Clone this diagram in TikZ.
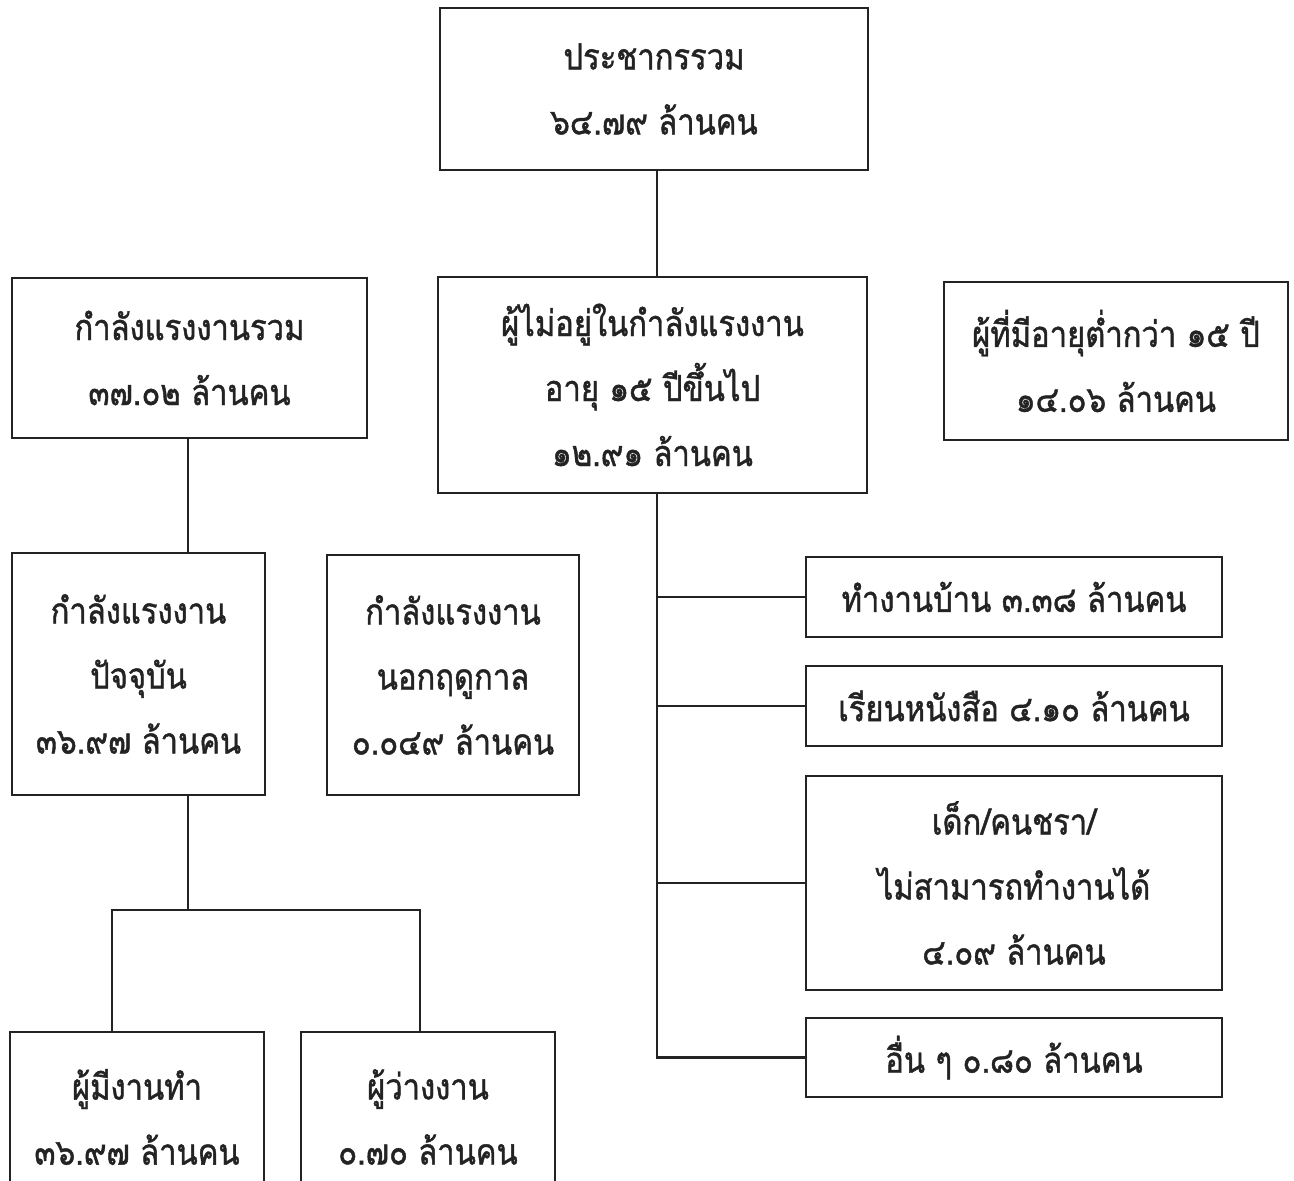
\documentclass[tikz,border=0pt]{standalone}
\usepackage{fontspec}
\usepackage{tikz}
\newfontfamily\thaifont[Script=Thai,FakeStretch=0.86,FakeBold=1.2]{Loma}
\definecolor{ink}{RGB}{35,35,35}

\begin{document}
\begin{tikzpicture}[x=1pt,y=1pt,yscale=-1,xscale=1,
  box/.style={draw=ink,line width=2.8pt,inner sep=0pt,align=center,text=ink,
    font=\thaifont\fontsize{36}{65}\selectfont},
  link/.style={draw=ink,line width=2.4pt}]
\clip (0,0) rectangle (1294,1181);
\fill[white] (0,0) rectangle (1294,1181);

%Boxes
\node[box,minimum width=428,minimum height=162] (total) at (654,89) {ประชากรรวม\\๖๔.๗๙ ล้านคน};
\node[box,minimum width=355,minimum height=160] (lf) at (189.5,358) {กำลังแรงงานรวม\\๓๗.๐๒ ล้านคน};
\node[box,minimum width=429,minimum height=216] (notlf) at (652.5,385) {ผู้ไม่อยู่ในกำลังแรงงาน\\อายุ ๑๕ ปีขึ้นไป\\๑๒.๙๑ ล้านคน};
\node[box,minimum width=344,minimum height=158] (young) at (1116,361) {ผู้ที่มีอายุต่ำกว่า ๑๕ ปี\\๑๔.๐๖ ล้านคน};
\node[box,minimum width=253,minimum height=242] (cur) at (138.5,674) {กำลังแรงงาน\\ปัจจุบัน\\๓๖.๙๗ ล้านคน};
\node[box,minimum width=252,minimum height=240] (season) at (453,675) {กำลังแรงงาน\\นอกฤดูกาล\\๐.๐๔๙ ล้านคน};
\node[box,minimum width=254,minimum height=170] (emp) at (137,1117) {ผู้มีงานทำ\\๓๖.๙๗ ล้านคน};
\node[box,minimum width=254,minimum height=170] (unemp) at (428,1117) {ผู้ว่างงาน\\๐.๗๐ ล้านคน};
\node[box,minimum width=416,minimum height=80] (house) at (1014,597) {ทำงานบ้าน ๓.๓๘ ล้านคน};
\node[box,minimum width=416,minimum height=80] (study) at (1014,706) {เรียนหนังสือ ๔.๑๐ ล้านคน};
\node[box,minimum width=416,minimum height=214] (child) at (1014,883) {เด็ก/คนชรา/\\ไม่สามารถทำงานได้\\๔.๐๙ ล้านคน};
\node[box,minimum width=416,minimum height=79] (other) at (1014,1057.5) {อื่น ๆ ๐.๘๐ ล้านคน};

%Forks
\coordinate (spine) at (657,494);
\coordinate (fork) at (188,910);
\coordinate (forkL) at (112,910);
\coordinate (forkR) at (420,910);

%Lines
\draw[link] (total.south -| spine) -- (notlf.north -| spine);
\draw[link] (lf.south -| fork) -- (cur.north -| fork);
\draw[link] (cur.south -| fork) -- (fork);
\draw[link] (emp.north -| forkL) -- (forkL) -- (forkR) -- (unemp.north -| forkR);
\draw[link] (notlf.south -| spine) -- (spine |- other.west) -- (other.west);
\draw[link] (spine |- house.west) -- (house.west);
\draw[link] (spine |- study.west) -- (study.west);
\draw[link] (spine |- child.west) -- (child.west);

\end{tikzpicture}
\end{document}
